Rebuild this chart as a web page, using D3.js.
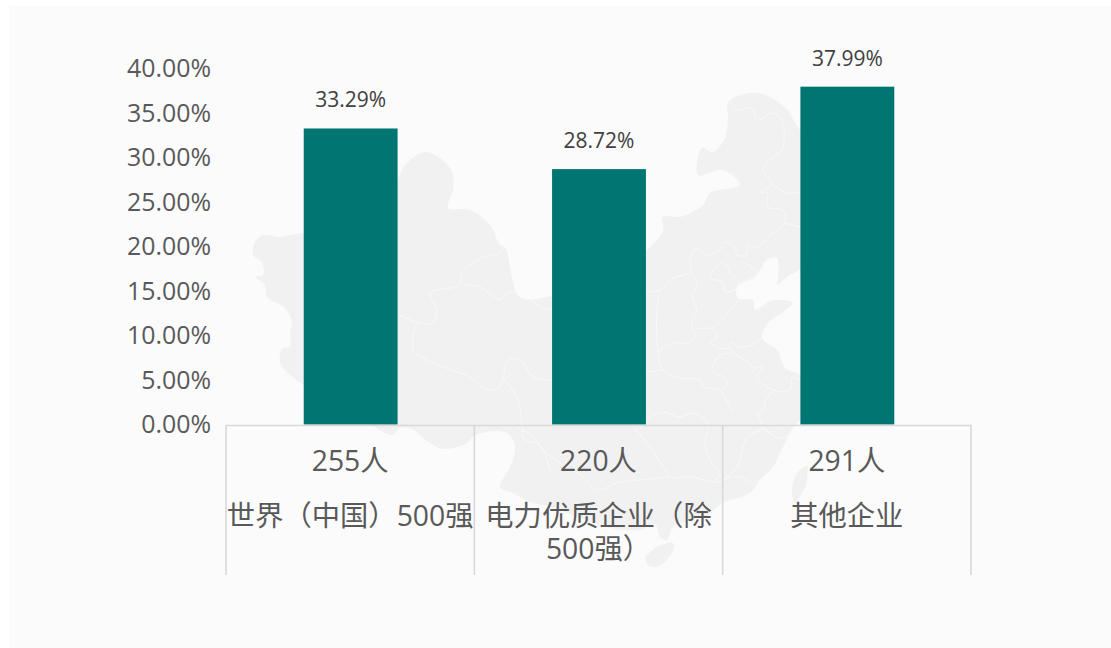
<!DOCTYPE html>
<html><head><meta charset="utf-8">
<script src="https://cdn.jsdelivr.net/npm/d3@7"></script>
<style>html,body{margin:0;padding:0;background:#fff;overflow:hidden}svg{display:block}text{font-family:"Open Sans","Noto Sans CJK SC",sans-serif}</style>
</head><body><svg id="c" width="1111" height="648"></svg>
<script>
const headcounts = ["255人","220人","291人"];
const categories = [["世界（中国）500强"],["电力优质企业（除","500强）"],["其他企业"]];
const shares = [33.29,28.72,37.99];
const shareLabels = ["33.29%","28.72%","37.99%"];
const tickValues = [0,5,10,15,20,25,30,35,40];

// Decorative backdrop map, traced by eye (not data)
const mapMain = [[303,233],[290,235],[280,237],[263,235],[255,242],[253,255],[262,262],[263,275],[255,277],[265,285],[267,297],[285,308],[292,323],[290,332],[290,347],[283,348],[280,362],[303,385],[350,410],[392,435],[400,428],[410,428],[430,443],[443,449],[467,443],[475,435],[507,433],[515,447],[510,467],[500,487],[513,493],[530,502],[555,508],[585,520],[610,528],[640,530],[655,524],[660,537],[667,540],[673,527],[707,515],[723,503],[750,493],[760,480],[773,467],[780,453],[793,428],[800,420],[810,400],[800,375],[785,368],[777,350],[762,338],[768,323],[783,312],[793,303],[773,300],[755,310],[753,300],[738,298],[737,287],[755,277],[767,260],[777,258],[778,277],[777,285],[787,277],[800,269],[830,240],[850,190],[830,160],[800,130],[787,110],[770,97],[750,93],[728,102],[728,117],[725,138],[713,152],[702,148],[698,175],[723,170],[740,185],[710,193],[703,205],[680,217],[663,217],[663,230],[647,250],[620,265],[590,285],[552,296],[520,297],[505,247],[500,245],[490,225],[470,210],[448,208],[453,190],[452,172],[440,158],[425,152],[405,165],[398,178],[360,200],[303,233]];
const mapHainan = [[645,557],[657,547],[673,543],[672,553],[657,567],[647,565]];
const mapTaiwan = [[808,465],[797,473],[792,493],[795,503],[807,483]];
const borders = [
 [[400,315],[417,322],[433,323],[437,310],[430,293],[460,285],[462,273],[483,257],[500,253],[507,245],[517,257],[523,273],[540,272],[538,282],[552,292]],
 [[462,285],[480,287],[500,300],[507,293],[523,293],[540,307],[552,310]],
 [[417,322],[413,350],[433,363],[470,377],[487,390],[500,387],[508,360],[520,360],[533,377],[552,380]],
 [[502,377],[517,397],[522,423],[525,440],[540,445],[550,470]],
 [[647,292],[660,290],[673,278],[690,272],[690,260],[697,248],[705,255],[720,250],[725,242],[735,248],[737,255],[747,255],[748,245],[755,248],[773,233],[785,223],[783,210],[768,207],[767,193],[760,192],[772,185],[763,170],[773,157],[782,150],[782,120],[773,113],[757,120],[752,108],[738,110],[730,102]],
 [[773,185],[787,193],[800,192]],[[785,223],[800,227]],
 [[743,262],[757,273],[740,283]],
 [[690,272],[697,283],[692,297],[697,310],[692,323],[695,337],[690,343],[673,343],[657,352]],
 [[660,290],[657,310],[658,352],[663,370],[680,378],[700,380],[703,387],[720,390],[728,403],[732,412]],
 [[720,262],[728,267],[730,273],[740,283],[735,290],[725,292],[723,282],[710,278],[720,262]],
 [[740,298],[713,327],[697,328]],
 [[713,328],[717,338],[710,342],[720,348],[728,348],[730,343],[740,347],[752,345],[762,338]],
 [[730,347],[732,352],[748,362],[753,368],[763,367],[757,377],[773,390],[790,390],[792,378],[800,380]],
 [[730,353],[720,355],[712,370],[725,378],[727,385],[720,390]],
 [[773,390],[765,402],[763,410],[758,413],[762,423],[763,428],[747,438],[737,467],[723,480],[713,482],[720,475],[712,463],[705,443],[708,427],[707,422],[693,413],[680,417],[663,412],[647,418]],
 [[647,372],[663,370]],
 [[763,428],[780,438],[792,432]],[[723,480],[740,477],[755,485]],[[713,482],[690,477],[673,478]],
 [[517,427],[533,437],[543,450],[560,463],[583,477],[597,490],[617,483],[640,480],[670,477]],
 [[633,427],[647,443],[670,477]]
];

const svg = d3.select("#c");
svg.append("rect").attr("x",9).attr("y",6).attr("width",1102).attr("height",642).attr("fill","#fbfbfb");
const lineGen = d3.line().curve(d3.curveCatmullRom.alpha(0.5));
const mapG = svg.append("g");
[mapMain,mapHainan,mapTaiwan].forEach(p=>mapG.append("path").attr("d",lineGen(p)+"Z").attr("fill","#f1f1f1"));
borders.forEach(p=>mapG.append("path").attr("d",lineGen(p)).attr("fill","none").attr("stroke","#f9f9f9").attr("stroke-width",0.9));

const y = d3.scaleLinear().domain([0,40]).range([424.5,68.8]);
const x = d3.scaleBand().domain(d3.range(3)).range([226.5,971.5]).paddingInner(0.622).paddingOuter(0.311);
const full = d3.scaleBand().domain(d3.range(3)).range([226,971]);

svg.selectAll("rect.bar").data(shares).join("rect").attr("class","bar")
 .attr("x",(d,i)=>x(i)).attr("width",x.bandwidth()).attr("y",d=>y(d)).attr("height",d=>y(0)-y(d)).attr("fill","#007672");
svg.selectAll("text.val").data(shares).join("text").attr("class","val")
 .attr("x",(d,i)=>x(i)+x.bandwidth()/2).attr("y",d=>y(d)-21).attr("text-anchor","middle")
 .attr("font-size",21).attr("fill","#404040").text((d,i)=>shareLabels[i]);

const axis = d3.axisLeft(y).tickValues(tickValues).tickSize(0).tickPadding(15).tickFormat(d=>d.toFixed(2)+"%");
const ag = svg.append("g").attr("transform","translate(226,0)").call(axis);
ag.select(".domain").remove();
ag.selectAll("text").attr("font-size",24.9).attr("fill","#595959").style("font-family",'"Open Sans","Noto Sans CJK SC",sans-serif');

const grid = "#d9d9d9";
svg.append("line").attr("x1",226).attr("x2",972).attr("y1",425.5).attr("y2",425.5).attr("stroke",grid).attr("stroke-width",1.6);
[0,1,2,3].forEach(i=>{
  const px = i<3 ? full(i) : full(2)+full.step();
  svg.append("line").attr("x1",px).attr("x2",px).attr("y1",425).attr("y2",575).attr("stroke",grid).attr("stroke-width",1.6);
});
headcounts.forEach((h,i)=>{
  const cx = full(i)+full.bandwidth()/2;
  svg.append("text").attr("x",cx).attr("y",471).attr("text-anchor","middle").attr("font-size",28.3).attr("fill","#595959").text(h);
  const t = svg.append("text").attr("text-anchor","middle").attr("font-size",28.3).attr("fill","#595959");
  categories[i].forEach((ln,j)=>t.append("tspan").attr("x",cx).attr("y",526+j*33).text(ln));
});
</script></body></html>
